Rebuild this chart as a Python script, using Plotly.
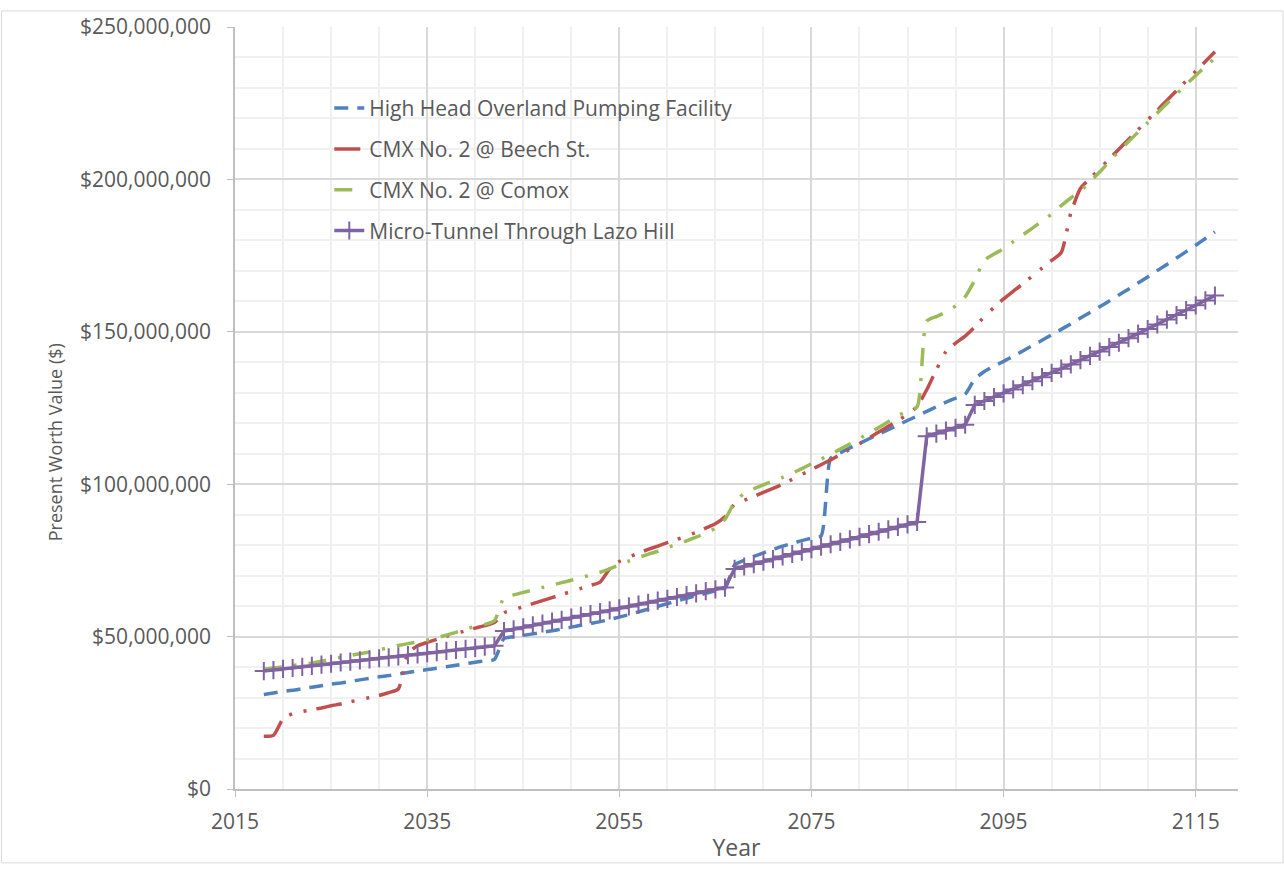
import plotly.graph_objects as go

years = list(range(2018, 2118))

# present worth values, $ millions
high_head = [
    31.0, 31.5, 32.0, 32.4, 32.9, 33.4, 33.9, 34.4, 34.8, 35.3,
    35.8, 36.3, 36.8, 37.2, 37.7, 38.2, 38.7, 39.2, 39.6, 40.1,
    40.6, 41.1, 41.6, 42.0, 42.5,
    49.4, 49.9, 50.4, 50.9, 51.4, 51.9, 52.5, 53.1, 53.7, 54.3,
    54.9, 55.6, 56.4, 57.2, 58.1, 59.0, 59.9, 60.8, 61.7, 62.6,
    63.4, 64.2, 65.0, 65.8,
    73.5, 75.0, 76.3, 77.5, 78.6, 79.7, 80.6, 81.5, 82.3, 83.0,
    108.5, 110.3, 111.9, 113.4, 114.9, 116.4, 117.9, 119.4, 120.9, 122.4,
    123.9, 125.4, 126.9, 128.2, 129.5,
    134.5,
    137.0, 138.7, 140.3, 142.0, 143.7, 145.5, 147.2, 149.0, 150.8, 152.6,
    154.5, 156.3, 158.2, 160.1, 162.1, 164.0, 166.0, 168.0, 170.1, 172.1,
    174.2, 176.3, 178.4, 180.6, 182.8,
]
beech_st = [
    17.3, 17.6, 23.0, 24.7, 25.4, 26.0, 26.6, 27.3, 27.9, 28.6,
    29.3, 30.0, 30.7, 31.6, 32.8, 44.5, 47.0, 48.1, 49.1, 50.1,
    51.0, 51.9, 52.8, 53.6, 54.6, 57.8, 58.8, 59.8, 60.8, 61.8,
    62.8, 63.8, 64.8, 65.8, 66.8, 67.9, 72.2, 74.6, 76.1, 77.4,
    78.6, 79.7, 80.8, 81.9, 83.0, 84.2, 85.6, 87.0, 89.3, 93.4,
    94.7, 96.0, 97.3, 98.6, 100.0, 101.6, 103.2, 104.8, 106.4, 108.0,
    109.7, 111.5, 113.3, 115.2, 117.1, 119.0, 120.9, 122.9, 125.5, 131.0,
    137.5, 143.5, 146.3, 148.6, 151.6, 155.0, 158.0, 160.8, 163.3, 165.7,
    168.3, 170.9, 173.4, 176.0, 189.0, 197.0, 200.3, 203.5, 206.7, 209.9,
    213.1, 216.3, 219.5, 222.7, 225.9, 229.1, 232.3, 235.5, 238.7, 241.9,
]
comox = [
    39.3, 39.7, 40.1, 40.5, 40.9, 41.3, 41.9, 42.6, 43.2, 43.8,
    44.4, 44.9, 45.6, 46.4, 47.1, 47.7, 48.2, 48.8, 49.6, 50.5,
    51.4, 52.5, 53.3, 54.0, 55.2,
    62.8, 63.7, 64.5, 65.3, 66.1, 66.9, 67.7, 68.5, 69.3, 70.2,
    71.1, 72.2, 73.5, 74.8, 75.9, 77.0, 78.0, 79.2, 80.3, 81.4,
    82.6, 84.0, 85.6, 88.5,
    94.0, 97.0, 98.5, 99.8, 101.0, 102.2, 103.6, 105.1, 106.7, 108.2,
    109.8, 111.5, 113.2, 115.0, 116.8, 118.6, 120.5, 122.5, 124.0, 125.4,
    153.5, 155.0, 156.5, 158.5, 161.5, 167.0, 173.5, 175.5, 177.3, 179.6,
    181.8, 184.0, 186.3, 188.6, 191.4, 193.9, 196.2, 199.3, 202.4, 205.8,
    209.2, 212.4, 215.5, 218.6, 221.8, 224.9, 228.0, 231.1, 234.1, 237.0,
    239.8,
]
lazo_hill = [
    38.7, 39.0, 39.4, 39.7, 40.1, 40.4, 40.8, 41.1, 41.5, 41.8,
    42.2, 42.5, 42.9, 43.2, 43.5, 43.9, 44.2, 44.6, 44.9, 45.3,
    45.6, 46.0, 46.3, 46.7, 47.0,
    51.8, 52.4, 53.0, 53.7, 54.3, 54.9, 55.5, 56.2, 56.8, 57.4,
    58.0, 58.6, 59.3, 59.9, 60.5, 61.1, 61.8, 62.4, 63.0, 63.6,
    64.2, 64.9, 65.5, 66.1,
    72.2, 73.0, 73.8, 74.6, 75.4, 76.3, 77.1, 77.9, 78.7, 79.5,
    80.3, 81.1, 81.9, 82.7, 83.6, 84.4, 85.2, 86.0, 86.8, 87.6,
    115.7, 116.6, 117.6, 118.5, 119.5,
    126.0, 127.3, 128.6, 129.8, 131.1, 132.5, 133.8, 135.1, 136.5, 137.9,
    139.3, 140.7, 142.1, 143.5, 145.0, 146.4, 147.9, 149.4, 150.9, 152.4,
    154.0, 155.5, 157.1, 158.7, 160.3, 161.9,
]

series = [
    ("High Head Overland Pumping Facility", high_head, "#4F81BD", "14px,9px"),
    ("CMX No. 2 @ Beech St.", beech_st, "#C0504D", "26px,10px,3px,12px,3px,10px"),
    ("CMX No. 2 @ Comox", comox, "#9BBB59", "18px,12px,3px,12px"),
]

TEXT = "#595959"
FONT = "Open Sans, Arial, sans-serif"

fig = go.Figure()
for i, (name, values, color, dash) in enumerate(series):
    fig.add_trace(go.Scatter(
        x=years,
        y=[v * 1e6 for v in values],
        name=name,
        legendgroup=str(i),
        mode="lines",
        line={"color": color, "width": 3.5, "dash": dash, "shape": "spline", "smoothing": 0.6},
    ))
fig.add_trace(go.Scatter(
    x=years,
    y=[v * 1e6 for v in lazo_hill],
    name="Micro-Tunnel Through Lazo Hill",
    legendgroup="3",
    mode="lines+markers",
    line={"color": "#8064A2", "width": 3.5},
    marker={"symbol": "cross-thin", "size": 13, "line": {"color": "#8064A2", "width": 2}},
))

fig.update_layout(
    width=1284,
    height=869,
    autosize=False,
    margin={"l": 235, "r": 46, "t": 17, "b": 75},
    paper_bgcolor="white",
    plot_bgcolor="white",
    font={"family": FONT, "size": 19, "color": TEXT},
    showlegend=True,
    legend={
        "x": 0.094, "y": 0.92, "xanchor": "left", "yanchor": "top",
        "bgcolor": "rgba(0,0,0,0)", "font": {"size": 21, "color": TEXT},
        "tracegroupgap": 10.5,
    },
    # the y title sits below the middle of the axis, as in the original
    annotations=[{
        "text": "Present Worth Value ($)", "xref": "paper", "yref": "paper",
        "x": -0.1795, "y": 0.455, "xanchor": "center", "yanchor": "middle",
        "textangle": -90, "showarrow": False,
        "font": {"size": 18, "color": TEXT},
    }],
    shapes=[{
        "type": "rect", "xref": "paper", "yref": "paper",
        "x0": -0.2328, "x1": 1.0449, "y0": -0.0969, "y1": 1.0211,
        "line": {"color": "#D9D9D9", "width": 1},
    }],
)
fig.update_xaxes(
    range=[2015, 2119.4],
    tick0=2015, dtick=20,
    showgrid=True, gridcolor="#D9D9D9", gridwidth=1.5,
    minor={"dtick": 5, "showgrid": True, "gridcolor": "#F0F0F0", "gridwidth": 1.5},
    showline=True, linecolor="#BFBFBF", linewidth=1.5,
    ticks="outside", ticklen=6, tickcolor="#BFBFBF",
    tickfont={"size": 21, "color": TEXT},
    ticklabelstandoff=7,
    zeroline=False,
    title={"text": "Year", "font": {"size": 23, "color": TEXT}, "standoff": 6},
)
fig.update_yaxes(
    range=[0, 250e6],
    dtick=50e6,
    tickformat="$,.0f",
    ticklabeloverflow="allow",
    showgrid=True, gridcolor="#D9D9D9", gridwidth=1.5,
    minor={"dtick": 10e6, "showgrid": True, "gridcolor": "#F0F0F0", "gridwidth": 1.5},
    showline=True, linecolor="#BFBFBF", linewidth=1.5,
    ticks="outside", ticklen=6, tickcolor="#BFBFBF",
    tickfont={"size": 21, "color": TEXT},
    ticklabelstandoff=12,
    zeroline=False,
)

# drop the default body margin so the 1284x869 figure fills the window exactly
fig.write_html(
    "out.html",
    config={"displayModeBar": False},
    post_script="document.body.style.margin = '0';",
)
